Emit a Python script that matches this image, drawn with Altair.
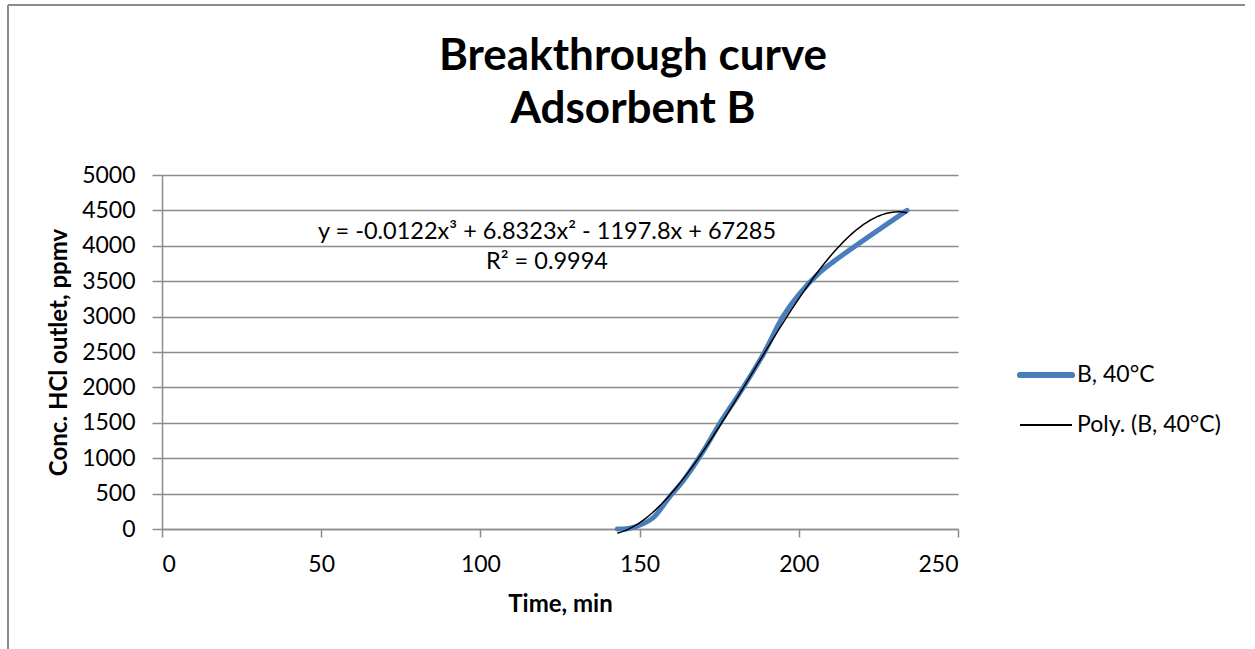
import altair as alt
import pandas as pd

# Measured outlet concentration for adsorbent B at 40 °C
time_min = [143, 147, 154, 159, 164, 170, 175, 182, 189, 195, 200, 206, 211, 234]
conc_ppmv = [0, 10, 150, 430, 700, 1100, 1480, 1960, 2480, 3000, 3310, 3600, 3780, 4500]

x_ticks = [0, 50, 100, 150, 200, 250]
y_ticks = [0, 500, 1000, 1500, 2000, 2500, 3000, 3500, 4000, 4500, 5000]

series_names = ["B, 40°C", "Poly. (B, 40°C)"]
series_colors = ["#4a7ebb", "#000000"]
title_lines = ["Breakthrough curve", "Adsorbent B"]
equation_lines = ["y = -0.0122x³ + 6.8323x² - 1197.8x + 67285", "R² = 0.9994"]

FONT = "Lato"
GRID = "#8c8c8c"

df = pd.DataFrame({"t": time_min, "c": conc_ppmv})

W, H = 796, 354

x_enc = alt.X("t:Q", scale=alt.Scale(domain=[0, 250], nice=False),
              axis=alt.Axis(values=x_ticks, title="Time, min", grid=False, format="d",
                            labelOverlap=False,
                            tickSize=8, tickColor=GRID, domainColor=GRID,
                            labelPadding=16, titlePadding=16))
y_enc = alt.Y("c:Q", scale=alt.Scale(domain=[0, 5000], nice=False),
              axis=alt.Axis(values=y_ticks, tickCount=11, title="Conc. HCl outlet, ppmv",
                            format="d", labelOverlap=False,
                            grid=True, gridColor=GRID, gridWidth=1.5,
                            tickSize=10, tickColor=GRID, domainColor=GRID,
                            labelPadding=17, titlePadding=10))

measured = alt.Chart(df).mark_line(
    color=series_colors[0], strokeWidth=5, interpolate="catmull-rom", strokeCap="round"
).encode(x=x_enc, y=y_enc)

# third-order polynomial trendline fitted to the measured points
trend = alt.Chart(df).transform_regression(
    "t", "c", method="poly", order=3, extent=[143, 234]
).mark_line(color=series_colors[1], strokeWidth=1.5).encode(x=x_enc, y=y_enc)

# chart frame (left and top edges)
frame_left = alt.Chart(df).mark_rule(color=GRID, strokeWidth=2).encode(
    x=alt.value(-154), y=alt.value(-170), y2=alt.value(480))
frame_top = alt.Chart(df).mark_rule(color=GRID, strokeWidth=2).encode(
    x=alt.value(-154), x2=alt.value(1083), y=alt.value(-170))


def text_line(txt, x, y, size, weight="normal", align="center"):
    return alt.Chart(pd.DataFrame({"txt": [txt]})).mark_text(
        font=FONT, fontSize=size, fontWeight=weight, align=align,
        baseline="middle", color="black"
    ).encode(x=alt.value(x), y=alt.value(y), text="txt:N")


title = [text_line(title_lines[0], 471, -118, 44, "bold"),
         text_line(title_lines[1], 471, -65, 44, "bold")]
equation = [text_line(equation_lines[0], 385, 57, 23.5),
            text_line(equation_lines[1], 385, 87, 23.5)]

# legend
leg_blue = alt.Chart(df).mark_rule(
    color=series_colors[0], strokeWidth=5, strokeCap="round"
).encode(x=alt.value(858), x2=alt.value(910), y=alt.value(200))
leg_black = alt.Chart(df).mark_rule(
    color=series_colors[1], strokeWidth=1.5
).encode(x=alt.value(858), x2=alt.value(910), y=alt.value(250))
leg_text = [text_line(series_names[0], 915, 200, 23, align="left"),
            text_line(series_names[1], 915, 250, 23, align="left")]

chart = alt.layer(
    measured, trend, frame_left, frame_top, *title, *equation, leg_blue, leg_black, *leg_text
).properties(
    width=W, height=H,
    autosize=alt.AutoSizeParams(type="none"),
    padding={"left": 162, "top": 175, "right": 297, "bottom": 120},
    background="white",
).configure_view(stroke=None).configure_axis(
    labelFont=FONT, labelFontSize=23, labelColor="black",
    titleFont=FONT, titleFontSize=24, titleFontWeight="bold", titleColor="black",
    domainWidth=1.5, tickWidth=1.5,
)

chart.save("out.html", embed_options={"renderer": "svg", "actions": False})
